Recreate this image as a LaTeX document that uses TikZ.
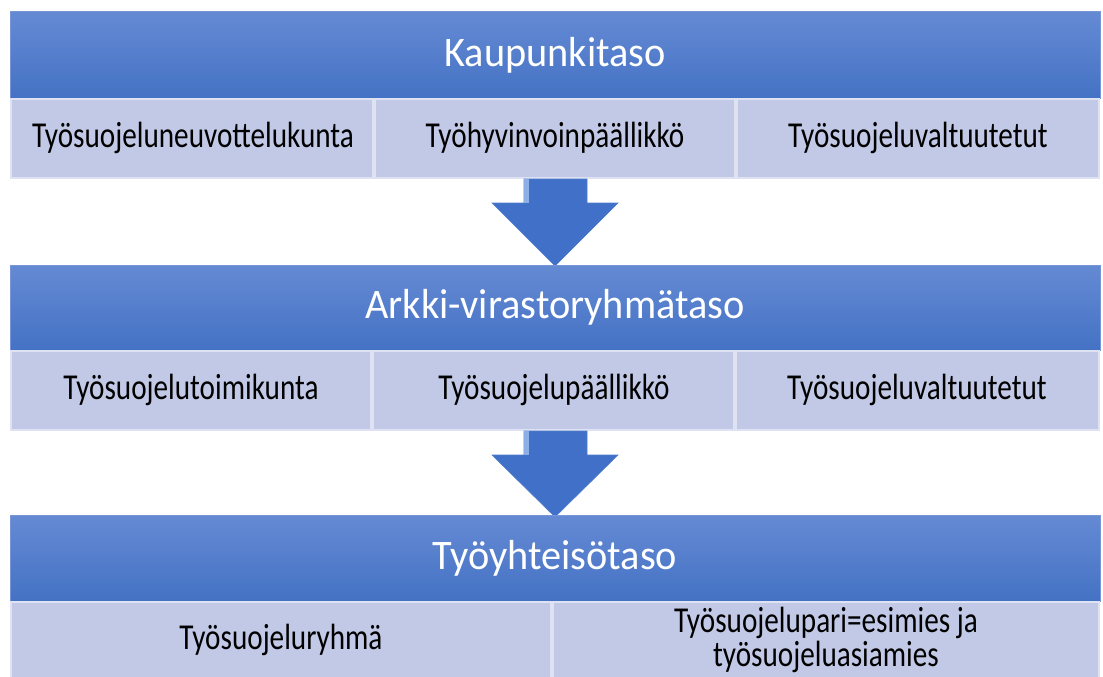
\documentclass[tikz,border=0pt]{standalone}
\usepackage{fontspec}
\setmainfont[FakeStretch=0.8]{Carlito}
\newfontfamily\hdrfont[FakeStretch=0.96]{Carlito}
\begin{document}
\begin{tikzpicture}[x=1pt,y=-1pt,
  hdr/.style={draw={rgb,255:red,120;green,150;blue,215}, line width=1pt,
    top color={rgb,255:red,101;green,138;blue,212}, bottom color={rgb,255:red,68;green,114;blue,196}},
  hdrtext/.style={text=white, font=\hdrfont\fontsize{42}{46}\selectfont, inner sep=0pt},
  sub/.style={draw={rgb,255:red,222;green,226;blue,242}, line width=1.5pt,
    fill={rgb,255:red,194;green,201;blue,230}},
  subtext/.style={text=black, font=\fontsize{36.5}{34}\selectfont, inner sep=0pt, align=center},
  arr/.style={fill={rgb,255:red,64;green,112;blue,200}, draw={rgb,255:red,80;green,125;blue,205}, line width=0.6pt},
  hl/.style={fill={rgb,255:red,140;green,175;blue,230}}
]
\useasboundingbox (0,0) rectangle (1103,677);
\begin{scope}
\clip (0,0) rectangle (1103,677);
% Panel 1
\path[hdr] (10,12) rectangle (1100,98);
\node[hdrtext] (h1) at (555,55) {Kaupunkitaso};
\path[sub] (11,99) rectangle (373,178);
\path[sub] (375,99) rectangle (735,178);
\path[sub] (737,99) rectangle (1099,178);
\node[subtext] (a1) at (193,138) {Työsuojeluneuvottelukunta};
\node[subtext] (a2) at (555,138) {Työhyvinvoinpäällikkö};
\node[subtext] (a3) at (918,138) {Työsuojeluvaltuutetut};
% Arrow 1
\path[arr] (524,179) -- (587,179) -- (587,203) -- (618,203) -- (555,266) -- (492,203) -- (524,203) -- cycle;
\path[hl] (524,179) rectangle (529,203);
% Panel 2
\path[hdr] (10,265) rectangle (1100,350);
\node[hdrtext] (h2) at (555,307) {Arkki-virastoryhmätaso};
\path[sub] (11,351) rectangle (371,430);
\path[sub] (373,351) rectangle (734,430);
\path[sub] (736,351) rectangle (1099,430);
\node[subtext] (b1) at (191,390) {Työsuojelutoimikunta};
\node[subtext] (b2) at (554,390) {Työsuojelupäällikkö};
\node[subtext] (b3) at (917,390) {Työsuojeluvaltuutetut};
% Arrow 2
\path[arr] (524,431) -- (587,431) -- (587,455) -- (618,455) -- (555,517) -- (492,455) -- (524,455) -- cycle;
\path[hl] (524,431) rectangle (529,455);
% Panel 3
\path[hdr] (10,515) rectangle (1100,601);
\node[hdrtext] (h3) at (555,558) {Työyhteisötaso};
\path[sub] (11,602) rectangle (551,690);
\path[sub] (553,602) rectangle (1099,690);
\node[subtext] (c1) at (281,640) {Työsuojeluryhmä};
\node[subtext] (c2) at (826,640) {Työsuojelupari=esimies ja\\työsuojeluasiamies};
\end{scope}
\end{tikzpicture}
\end{document}
